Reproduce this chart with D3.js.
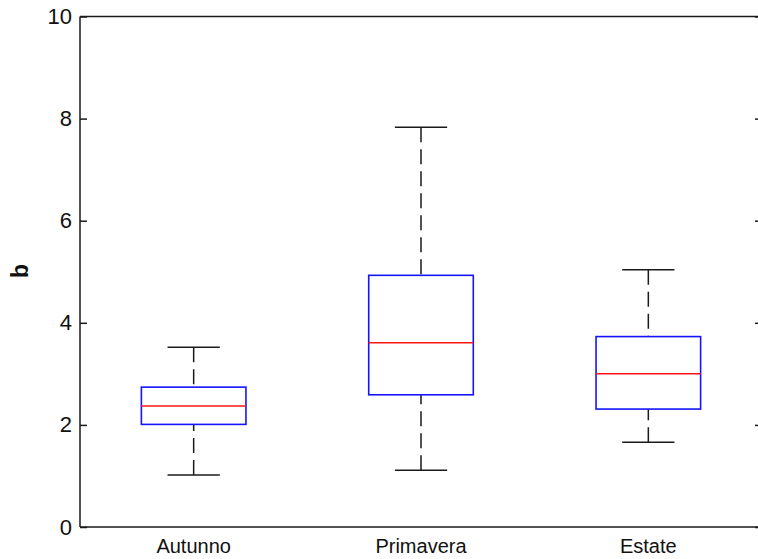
<!doctype html>
<html>
<meta charset="utf-8">
<head>
<script src="https://cdn.jsdelivr.net/npm/d3@7"></script>
<style>
  html, body { margin: 0; background: #fff; overflow: hidden; }
  svg { display: block; }
  text { font-family: "Liberation Sans", Arial, sans-serif; fill: #111; }
</style>
</head>
<body>
<script>
// seasons and box stats
var seasons = ["Autunno", "Primavera", "Estate"];
var lowerWhisker = [1.02, 1.11, 1.66];
var q1 = [2.01, 2.59, 2.31];
var median = [2.37, 3.61, 3.00];
var q3 = [2.74, 4.93, 3.73];
var upperWhisker = [3.52, 7.83, 5.04];
var yTicks = [0, 2, 4, 6, 8, 10];

var width = 758, height = 559;
var plotL = 80, plotR = 762, plotT = 16.5, plotB = 527;

var svg = d3.select("body").append("svg")
  .attr("width", width)
  .attr("height", height);

var x = d3.scaleLinear().domain([0.5, 3.5]).range([plotL, plotR]);
var y = d3.scaleLinear().domain([0, 10]).range([plotB, plotT]);

var boxW = 0.46 * (x(1) - x(0));
var capW = boxW / 2;
var ink = "#1a1a1a";

// axis frame (right edge falls outside the picture)
var frame = svg.append("g").attr("stroke", ink).attr("stroke-width", 1.5).attr("fill", "none");
frame.append("line").attr("x1", plotL).attr("x2", plotL).attr("y1", plotT).attr("y2", plotB);
frame.append("line").attr("x1", plotL).attr("x2", width).attr("y1", plotB).attr("y2", plotB);
frame.append("line").attr("x1", plotL).attr("x2", width).attr("y1", plotT).attr("y2", plotT);

// y ticks, inward on both sides
var yAxisL = d3.axisLeft(y).tickValues(yTicks).tickSizeInner(-7).tickSizeOuter(0).tickPadding(8);
var gL = svg.append("g").attr("transform", "translate(" + plotL + ",0)").call(yAxisL);
gL.select(".domain").remove();
gL.selectAll("line").attr("stroke", ink).attr("stroke-width", 1.5);
gL.selectAll("text").attr("font-size", 22).attr("fill", "#111")
  .style("font-family", "'Liberation Sans', Arial, sans-serif");

var yAxisR = d3.axisRight(y).tickValues(yTicks).tickSizeInner(-7).tickSizeOuter(0).tickFormat("");
var gR = svg.append("g").attr("transform", "translate(" + plotR + ",0)").call(yAxisR);
gR.select(".domain").remove();
gR.selectAll("line").attr("stroke", ink).attr("stroke-width", 1.5);

// x labels
svg.append("g").selectAll("text")
  .data(seasons)
  .enter().append("text")
  .attr("x", function(d, i) { return x(i + 1); })
  .attr("y", plotB + 26)
  .attr("text-anchor", "middle")
  .attr("font-size", 20)
  .text(function(d) { return d; });

// y label
svg.append("text")
  .attr("transform", "translate(28,271) rotate(-90)")
  .attr("text-anchor", "middle")
  .attr("font-size", 23)
  .attr("font-weight", "bold")
  .text("b");

// boxes
var boxes = svg.append("g").selectAll("g")
  .data(seasons)
  .enter().append("g");

// whiskers
boxes.append("line")
  .attr("x1", function(d, i) { return x(i + 1); })
  .attr("x2", function(d, i) { return x(i + 1); })
  .attr("y1", function(d, i) { return y(upperWhisker[i]); })
  .attr("y2", function(d, i) { return y(q3[i]); })
  .attr("stroke", ink).attr("stroke-width", 1.5)
  .attr("stroke-dasharray", "15,7");

boxes.append("line")
  .attr("x1", function(d, i) { return x(i + 1); })
  .attr("x2", function(d, i) { return x(i + 1); })
  .attr("y1", function(d, i) { return y(lowerWhisker[i]); })
  .attr("y2", function(d, i) { return y(q1[i]); })
  .attr("stroke", ink).attr("stroke-width", 1.5)
  .attr("stroke-dasharray", "15,7");

// caps
boxes.append("line")
  .attr("x1", function(d, i) { return x(i + 1) - capW / 2; })
  .attr("x2", function(d, i) { return x(i + 1) + capW / 2; })
  .attr("y1", function(d, i) { return y(upperWhisker[i]); })
  .attr("y2", function(d, i) { return y(upperWhisker[i]); })
  .attr("stroke", ink).attr("stroke-width", 1.5);

boxes.append("line")
  .attr("x1", function(d, i) { return x(i + 1) - capW / 2; })
  .attr("x2", function(d, i) { return x(i + 1) + capW / 2; })
  .attr("y1", function(d, i) { return y(lowerWhisker[i]); })
  .attr("y2", function(d, i) { return y(lowerWhisker[i]); })
  .attr("stroke", ink).attr("stroke-width", 1.5);

// box
boxes.append("rect")
  .attr("x", function(d, i) { return x(i + 1) - boxW / 2; })
  .attr("y", function(d, i) { return y(q3[i]); })
  .attr("width", boxW)
  .attr("height", function(d, i) { return y(q1[i]) - y(q3[i]); })
  .attr("fill", "none")
  .attr("stroke", "#1414ff")
  .attr("stroke-width", 1.6);

// median
boxes.append("line")
  .attr("x1", function(d, i) { return x(i + 1) - boxW / 2; })
  .attr("x2", function(d, i) { return x(i + 1) + boxW / 2; })
  .attr("y1", function(d, i) { return y(median[i]); })
  .attr("y2", function(d, i) { return y(median[i]); })
  .attr("stroke", "#ff1414")
  .attr("stroke-width", 1.5);
</script>
</body>
</html>
